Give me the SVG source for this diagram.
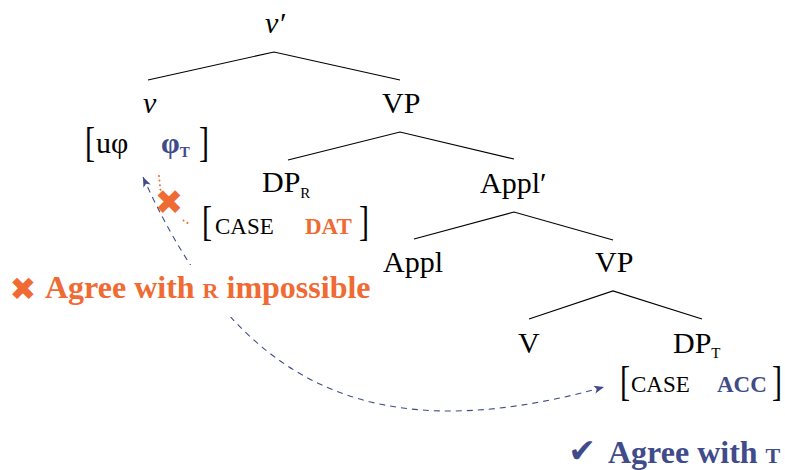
<svg xmlns="http://www.w3.org/2000/svg" width="785" height="470" viewBox="0 0 785 470">
<defs>
<style>
text { font-family: "Liberation Serif", "Times New Roman", serif; fill: #000; }
.lbl { font-size: 30px; }
.big { font-size: 32px; }
.it { font-style: italic; }
.sc { font-size: 23px; }
.sub { font-size: 15px; }
.b { font-weight: bold; }
.blue { fill: #3F4B8A; }
.orange { fill: #F06A33; }
.sym { font-family: "DejaVu Sans", sans-serif; font-weight: bold; }
.edge { stroke: #000; stroke-width: 1.2; fill: none; }
.agree { stroke: #3F4B8A; stroke-width: 1.1; fill: none; stroke-dasharray: 6 5; }
.block { stroke: #F06A33; stroke-width: 2; fill: none; stroke-linecap: round; stroke-dasharray: 0.01 4.6; }
</style>
<marker id="ah" markerUnits="userSpaceOnUse" viewBox="0 0 10 8" markerWidth="10" markerHeight="8" refX="10" refY="4" orient="auto-start-reverse">
<path d="M0,0 L10,4 L0,8 L2.5,4 z" fill="#3F4B8A"/>
</marker>
</defs>
<rect width="785" height="470" fill="#fff"/>

<g id="edges">
<path class="edge" d="M148,80 L274,52 L400,80"/>
<path class="edge" d="M288,160 L400,132 L514,159"/>
<path class="edge" d="M414,239 L514,212 L613,240"/>
<path class="edge" d="M529,319 L613,291 L702,319"/>
</g>

<g id="connectors">
<path id="agree-t" class="agree" d="M143,177 C237,386 371,452 604,387" marker-start="url(#ah)" marker-end="url(#ah)"/>
<path id="agree-r-upper" class="block" d="M159,176 L160.5,190"/>
<path id="agree-r-lower" class="block" d="M183.5,220.5 L190,224.5"/>
</g>

<g id="n-vbar"><text class="lbl it" x="265" y="33">v′</text></g>
<g id="n-v"><text class="lbl it" x="143" y="113">v</text></g>
<g id="n-vp1"><text class="lbl" x="382" y="113">VP</text></g>
<g id="n-v-features">
<text class="lbl" transform="translate(85,156.4) scale(1,1.43)">[</text>
<text class="lbl" x="96" y="153">uφ</text>
<text class="lbl b blue" x="161" y="153">φ<tspan class="sub" dy="4">T</tspan></text>
<text class="lbl" transform="translate(199,156.4) scale(1,1.43)">]</text>
</g>
<g id="n-dpr">
<text class="lbl" x="262" y="192">DP<tspan class="sub" dy="6">R</tspan></text>
</g>
<g id="n-dpr-features">
<text class="lbl" transform="translate(202,235.4) scale(1,1.43)">[</text>
<text class="sc" x="215" y="234">CASE</text>
<text class="sc b orange" x="305" y="234">DAT</text>
<text class="lbl" transform="translate(359,235.4) scale(1,1.43)">]</text>
</g>
<g id="n-applbar"><text class="lbl" x="480" y="193">Appl′</text></g>
<g id="n-appl"><text class="lbl" x="383" y="272">Appl</text></g>
<g id="n-vp2"><text class="lbl" x="595" y="272">VP</text></g>
<g id="n-v2"><text class="lbl" x="518" y="353">V</text></g>
<g id="n-dpt">
<text class="lbl" x="673" y="353">DP<tspan class="sub" dy="5">T</tspan></text>
</g>
<g id="n-dpt-features">
<text class="lbl" transform="translate(620,395.4) scale(1,1.43)">[</text>
<text class="sc" x="631" y="392">CASE</text>
<text class="sc b blue" x="717" y="392">ACC</text>
<text class="lbl" transform="translate(772,395.4) scale(1,1.43)">]</text>
</g>

<g id="n-blocked">
<text class="sym orange" x="169" y="214" font-size="34" text-anchor="middle">✖</text>
</g>

<g id="n-label-r">
<rect x="38" y="265" width="342" height="52" fill="#fff"/>
<text class="sym orange" x="23" y="300" font-size="32" text-anchor="middle">✖</text>
<text class="big b orange" x="45" y="298">Agree with <tspan font-size="22">R</tspan> impossible</text>
</g>

<g id="n-label-t">
<text class="sym blue" x="582" y="462" font-size="33" text-anchor="middle">✔</text>
<text class="big b blue" x="608" y="463">Agree with <tspan font-size="22">T</tspan></text>
</g>
</svg>
